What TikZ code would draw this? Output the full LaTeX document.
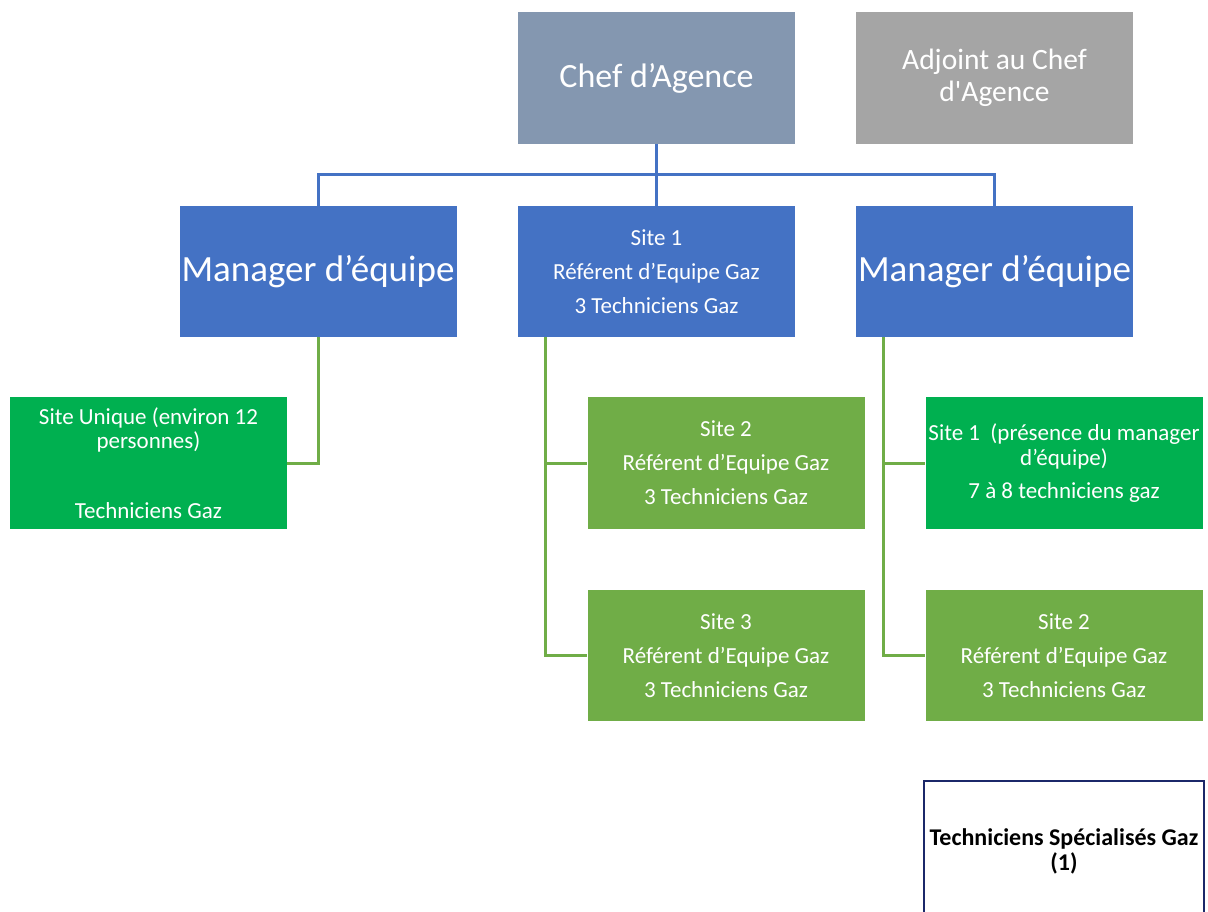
\documentclass[tikz,border=0pt]{standalone}
\usepackage{fontspec}
\setmainfont{Carlito}[Ligatures=TeXOff]
\definecolor{chefc}{HTML}{8497B0}
\definecolor{adjc}{HTML}{A5A5A5}
\definecolor{bluec}{HTML}{4472C4}
\definecolor{greenb}{HTML}{00B050}
\definecolor{greenc}{HTML}{70AD47}
\definecolor{navyc}{HTML}{1B2869}
\begin{document}
\begin{tikzpicture}[x=1pt,y=-1pt,
  box/.style={rectangle,inner sep=0pt,text=white,align=center,minimum width=277pt,minimum height=132pt},
  small/.style={font=\fontsize{23}{34}\selectfont},
  bline/.style={draw=bluec,line width=3pt},
  gline/.style={draw=greenc,line width=3pt}]
\useasboundingbox (0,0) rectangle (1208,912);
% top
\node[box,fill=chefc,font=\fontsize{34}{38}\selectfont] (chef) at (656.5,78) {Chef d’Agence};
\node[box,fill=adjc,font=\fontsize{29.5}{32}\selectfont] (adj) at (994.5,78) {Adjoint au Chef\\d'Agence};
% second row
\node[box,fill=bluec,font=\fontsize{37}{40}\selectfont,minimum height=131pt] (mgrL) at (318,271.5) {Manager d’équipe};
\node[box,fill=bluec,small,minimum height=131pt] (site1) at (656.5,271.5) {Site 1\\Référent d’Equipe Gaz\\3 Techniciens Gaz};
\node[box,fill=bluec,font=\fontsize{37}{40}\selectfont,minimum height=131pt] (mgrR) at (994.5,271.5) {Manager d’équipe};
% third row
\node[box,fill=greenb,font=\fontsize{23}{24}\selectfont] (siteU) at (148.5,463) {Site Unique (environ 12\\personnes)\\[46pt]Techniciens Gaz};
\node[box,fill=greenc,small] (s2m) at (726,463) {Site 2\\Référent d’Equipe Gaz\\3 Techniciens Gaz};
\node[box,fill=greenc,small,minimum height=131pt] (s3m) at (726,655.5) {Site 3\\Référent d’Equipe Gaz\\3 Techniciens Gaz};
\node[box,fill=greenb,font=\fontsize{23}{25}\selectfont] (s1r) at (1064,463) {Site 1~ (présence du manager\\d’équipe)\\[8pt]7 à 8 techniciens gaz};
\node[box,fill=greenc,small,minimum height=131pt] (s2r) at (1064,655.5) {Site 2\\Référent d’Equipe Gaz\\3 Techniciens Gaz};
% special
\node[rectangle,draw=navyc,line width=2.6pt,inner sep=0pt,minimum width=280pt,minimum height=140pt,align=center,font=\bfseries\fontsize{24}{25}\selectfont] (tech) at (1064,851) {Techniciens Spécialisés Gaz\\(1)};
% blue connectors
\coordinate (bus) at (656.5,175);
\draw[bline] (chef.south) -- (site1.north);
\draw[bline] (mgrL.north) |- (bus) -| (mgrR.north);
% green connectors
\draw[gline] (mgrL.south) |- (siteU.east);
\coordinate (tm) at (545,337);
\coordinate (tr) at (883,337);
\draw[gline] (tm) |- (s2m.west);
\draw[gline] (tm) |- (s3m.west);
\draw[gline] (tr) |- (s1r.west);
\draw[gline] (tr) |- (s2r.west);
\end{tikzpicture}
\end{document}
